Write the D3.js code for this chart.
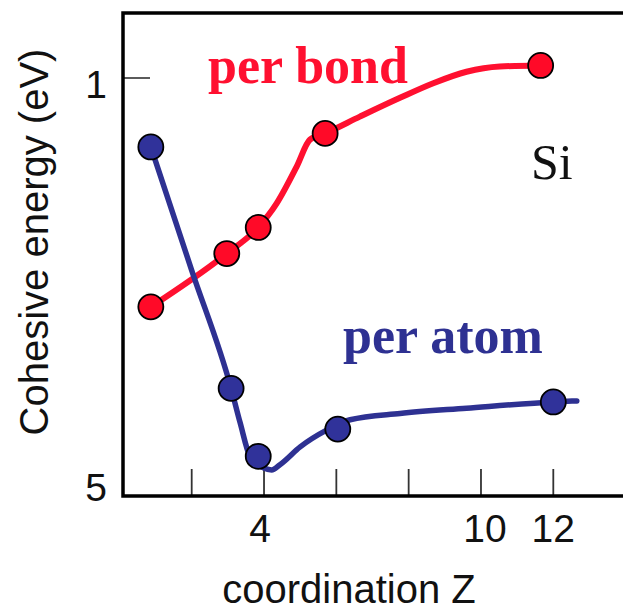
<!DOCTYPE html>
<html>
<head>
<meta charset="utf-8">
<script src="https://d3js.org/d3.v7.min.js"></script>
<style>
  body { margin: 0; background: #fff; }
  svg { display: block; }
</style>
</head>
<body>
<svg width=623 height=612></svg>
<script>

// coordination Z and cohesive energy
var atomZ = [0.87, 3.09, 3.84, 6.04, 12.0];
var atomE = [1.66, 3.97, 4.62, 4.36, 4.10];
var bondZ = [0.87, 2.97, 3.84, 5.69, 11.65];
var bondE = [3.19, 2.68, 2.43, 1.53, 0.88];

// hand drawn guide lines through the points
var atomCurveZ = [0.87, 2.0, 3.09, 3.34, 3.61, 3.98, 4.21, 4.44, 5.0, 5.73, 6.38, 7.76, 9.6, 12.02, 12.65];
var atomCurveE = [1.66, 2.84, 3.97, 4.30, 4.62, 4.73, 4.75, 4.70, 4.53, 4.37, 4.27, 4.21, 4.16, 4.10, 4.09];
var bondCurveZ = [0.87, 2.97, 3.84, 4.35, 4.9, 5.27, 5.69, 6.65, 7.76, 8.68, 9.6, 10.52, 11.65];
var bondCurveE = [3.19, 2.68, 2.43, 2.20, 1.85, 1.59, 1.53, 1.37, 1.19, 1.05, 0.94, 0.89, 0.88];

var xTicks = [2, 4, 6, 8, 10, 12];
var xLabels = [4, 10, 12];
var yTicks = [1, 5];

var svg = d3.select('svg');

// plot frame edges (the right side runs off the page)
var frameL = 123, frameT = 13, frameB = 496, frameR = 623;

var x = d3.scaleLinear().domain([2, 12]).range([191.7, 553.3]);
var y = d3.scaleLinear().domain([1, 5]).range([78, 496]);

var red = '#ff1030', blue = '#2e3192';

// x ticks (pointing inward)
svg.selectAll('.xtick')
  .data(xTicks)
  .enter().append('line')
  .attr('x1', function(d) { return x(d); })
  .attr('x2', function(d) { return x(d); })
  .attr('y1', frameB)
  .attr('y2', frameB - 27)
  .style('stroke', '#333')
  .style('stroke-width', 1.8);

svg.selectAll('.xlab')
  .data(xLabels)
  .enter().append('text')
  .attr('x', function(d) { return x(d) + (d == 4 ? -4 : d == 10 ? 4 : 0); })
  .attr('y', 542)
  .attr('text-anchor', 'middle')
  .style('font-family', 'Liberation Sans, Arial, sans-serif')
  .style('font-size', '39px')
  .style('fill', '#111')
  .text(function(d) { return d; });

// y tick and labels
svg.append('line')
  .attr('x1', frameL).attr('x2', frameL + 27)
  .attr('y1', y(1)).attr('y2', y(1))
  .style('stroke', '#333')
  .style('stroke-width', 1.6);

svg.selectAll('.ylab')
  .data(yTicks)
  .enter().append('text')
  .attr('x', 107)
  .attr('y', function(d) { return Math.min(y(d) + 20, frameB + 5); })
  .attr('text-anchor', 'end')
  .style('font-family', 'Liberation Sans, Arial, sans-serif')
  .style('font-size', '39px')
  .style('fill', '#111')
  .text(function(d) { return d; });

// frame: top, left, bottom
svg.append('path')
  .attr('d', 'M' + frameR + ',' + frameT + 'H' + frameL + 'V' + frameB + 'H' + frameR)
  .style('fill', 'none')
  .style('stroke', '#000')
  .style('stroke-width', 3.5);

// lines
var line = d3.line()
  .x(function(d) { return x(d[0]); })
  .y(function(d) { return y(d[1]); })
  .curve(d3.curveMonotoneX);

svg.append('path')
  .attr('d', line(d3.zip(bondCurveZ, bondCurveE)))
  .style('fill', 'none')
  .style('stroke', red)
  .style('stroke-width', 6)
  .style('stroke-linecap', 'round');

svg.append('path')
  .attr('d', line(d3.zip(atomCurveZ, atomCurveE)))
  .style('fill', 'none')
  .style('stroke', blue)
  .style('stroke-width', 5.5)
  .style('stroke-linecap', 'round');

// points
svg.selectAll('.bond')
  .data(d3.zip(bondZ, bondE))
  .enter().append('circle')
  .attr('cx', function(d) { return x(d[0]); })
  .attr('cy', function(d) { return y(d[1]); })
  .attr('r', 12.5)
  .style('fill', '#ff0a28')
  .style('stroke', '#000')
  .style('stroke-width', 1.8);

svg.selectAll('.atom')
  .data(d3.zip(atomZ, atomE))
  .enter().append('circle')
  .attr('cx', function(d) { return x(d[0]); })
  .attr('cy', function(d) { return y(d[1]); })
  .attr('r', 12.5)
  .style('fill', '#30329a')
  .style('stroke', '#000')
  .style('stroke-width', 1.8);

// annotations
svg.append('text')
  .attr('x', 208).attr('y', 83)
  .style('font-family', 'Liberation Serif, Times New Roman, serif')
  .style('font-weight', 'bold')
  .style('font-size', '52px')
  .style('fill', red)
  .text('per bond');

svg.append('text')
  .attr('x', 343).attr('y', 353)
  .style('font-family', 'Liberation Serif, Times New Roman, serif')
  .style('font-weight', 'bold')
  .style('font-size', '52px')
  .style('fill', blue)
  .text('per atom');

svg.append('text')
  .attr('x', 531).attr('y', 179)
  .style('font-family', 'Liberation Serif, Times New Roman, serif')
  .style('font-size', '50px')
  .style('fill', '#111')
  .text('Si');

// axis titles
svg.append('text')
  .attr('transform', 'translate(48,242) rotate(-90)')
  .attr('text-anchor', 'middle')
  .style('font-family', 'Liberation Sans, Arial, sans-serif')
  .style('font-size', '40px')
  .style('fill', '#111')
  .text('Cohesive energy (eV)');

svg.append('text')
  .attr('x', 349).attr('y', 603)
  .attr('text-anchor', 'middle')
  .style('font-family', 'Liberation Sans, Arial, sans-serif')
  .style('font-size', '40px')
  .style('fill', '#111')
  .text('coordination Z');

</script>
</body>
</html>
